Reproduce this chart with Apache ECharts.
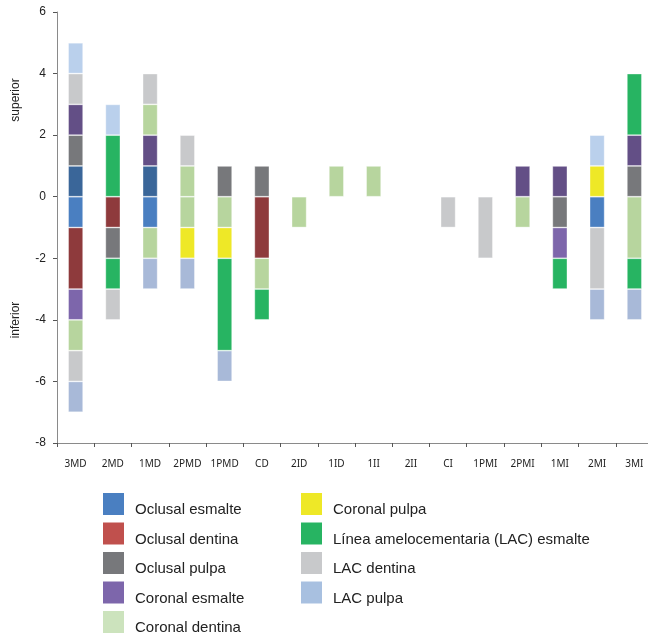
<!DOCTYPE html>
<html>
<head>
<meta charset="utf-8">
<script src="https://cdn.jsdelivr.net/npm/echarts@6/dist/echarts.min.js"></script>
<style>html,body{margin:0;padding:0;background:#fff}#c{width:648px;height:644px}</style>
</head>
<body>
<div id="c"></div>
<script>
var categories = ['3MD','2MD','1MD','2PMD','1PMD','CD','2ID','1ID','1II','2II','CI','1PMI','2PMI','1MI','2MI','3MI'];
var yTicks = {min: -8, max: 6, interval: 2};
var typeNames = ['Oclusal esmalte','Oclusal dentina','Oclusal pulpa','Coronal esmalte','Coronal dentina','Coronal pulpa','Línea amelocementaria (LAC) esmalte','LAC dentina','LAC pulpa'];
var N = null;
// superior (positive) values per type, order of categories
var ocEsmalteSup  = [1,N,1,N,N,N,N,N,N,N,N,N,N,N,N,N];
var ocDentinaSup  = [N,N,N,N,N,N,N,N,N,N,N,N,N,N,N,N];
var ocPulpaSup    = [1,N,N,N,1,1,N,N,N,N,N,N,N,N,N,1];
var corEsmalteSup = [1,N,1,N,N,N,N,N,N,N,N,N,1,1,N,1];
var corDentinaSup = [N,N,1,1,N,N,N,1,1,N,N,N,N,N,N,N];
var corPulpaSup   = [N,N,N,N,N,N,N,N,N,N,N,N,N,N,1,N];
var lacEsmalteSup = [N,2,N,N,N,N,N,N,N,N,N,N,N,N,N,2];
var lacDentinaSup = [1,N,1,1,N,N,N,N,N,N,N,N,N,N,N,N];
var lacPulpaSup   = [1,1,N,N,N,N,N,N,N,N,N,N,N,N,1,N];
// inferior (negative) values per type
var ocEsmalteInf  = [-1,N,-1,N,N,N,N,N,N,N,N,N,N,N,-1,N];
var ocDentinaInf  = [-2,-1,N,N,N,-2,N,N,N,N,N,N,N,N,N,N];
var ocPulpaInf    = [N,-1,N,N,N,N,N,N,N,N,N,N,N,-1,N,N];
var corEsmalteInf = [-1,N,N,N,N,N,N,N,N,N,N,N,N,-1,N,N];
var corDentinaInf = [-1,N,-1,-1,-1,-1,-1,N,N,N,N,N,-1,N,N,-2];
var corPulpaInf   = [N,N,N,-1,-1,N,N,N,N,N,N,N,N,N,N,N];
var lacEsmalteInf = [N,-1,N,N,-3,-1,N,N,N,N,N,N,N,-1,N,-1];
var lacDentinaInf = [-1,-1,N,N,N,N,N,N,N,N,-1,-2,N,N,-2,N];
var lacPulpaInf   = [-1,N,-1,-1,-1,N,N,N,N,N,N,N,N,N,-1,-1];

var supData = [ocEsmalteSup,ocDentinaSup,ocPulpaSup,corEsmalteSup,corDentinaSup,corPulpaSup,lacEsmalteSup,lacDentinaSup,lacPulpaSup];
var infData = [ocEsmalteInf,ocDentinaInf,ocPulpaInf,corEsmalteInf,corDentinaInf,corPulpaInf,lacEsmalteInf,lacDentinaInf,lacPulpaInf];
var supColors = ['#3a6699','#8e3a3c','#77787b','#634f86','#b7d59e','#eee827','#27b462','#c8c9cb','#bad0ec'];
var infColors = ['#4a7fc1','#8e3a3c','#77787b','#7d66ab','#b7d59e','#eee827','#27b462','#c8c9cb','#a8b9d8'];
var legendColors = ['#4a7fc1','#c0504d','#77787b','#7d66ab','#cce3bd','#eee827','#27b462','#c8c9cb','#a8c0e0'];

var series = [];
function mk(name, data, color) {
  return {
    name: name, type: 'bar', stack: 'all', data: data, barWidth: 15,
    itemStyle: {color: color, borderColor: 'rgba(255,255,255,0.45)', borderWidth: 0.8},
    emphasis: {disabled: true}
  };
}
for (var i = 0; i < typeNames.length; i++) series.push(mk(typeNames[i], supData[i], supColors[i]));
for (var j = 0; j < typeNames.length; j++) series.push(mk(typeNames[j], infData[j], infColors[j]));

function legendItems(from, to) {
  var out = [];
  for (var k = from; k < to; k++) out.push({name: typeNames[k], icon: 'rect', itemStyle: {color: legendColors[k], borderWidth: 0}});
  return out;
}
var legendText = {
  fontFamily: 'Liberation Sans', fontSize: 15, color: '#222',
  rich: {t: {fontFamily: 'Liberation Sans', fontSize: 15, color: '#222', padding: [12, 0, 0, 6]}}
};
function legendFmt(name) { return '{t|' + name + '}'; }

var chart = echarts.init(document.getElementById('c'));
chart.setOption({
  animation: false,
  backgroundColor: '#fff',
  grid: {left: 57, width: 596, top: 12, bottom: 201, outerBoundsMode: 'none', containLabel: false},
  xAxis: {
    type: 'category', data: categories,
    axisLine: {onZero: false, lineStyle: {color: '#8a8a8a', width: 1}},
    axisTick: {show: true, length: 4, lineStyle: {color: '#555'}},
    axisLabel: {fontFamily: 'Noto Sans', fontSize: 10, color: '#222', margin: 16, interval: 0}
  },
  yAxis: {
    type: 'value', min: yTicks.min, max: yTicks.max, interval: yTicks.interval,
    axisLine: {show: true, lineStyle: {color: '#8a8a8a', width: 1}},
    axisTick: {show: true, length: 4, lineStyle: {color: '#555'}},
    splitLine: {show: false},
    axisLabel: {fontFamily: 'Liberation Sans', fontSize: 12, color: '#222', margin: 11}
  },
  legend: [
    {orient: 'vertical', left: 103, top: 493, height: 160, padding: 0, itemWidth: 21, itemHeight: 22, itemGap: 5,
     data: legendItems(0, 5), textStyle: legendText, formatter: legendFmt, selectedMode: false},
    {orient: 'vertical', left: 301, top: 493, height: 160, padding: 0, itemWidth: 21, itemHeight: 22, itemGap: 5,
     data: legendItems(5, 9), textStyle: legendText, formatter: legendFmt, selectedMode: false}
  ],
  graphic: [
    {type: 'text', x: 16, y: 100, rotation: Math.PI / 2, style: {text: 'superior', fontFamily: 'Liberation Sans', fontSize: 12, fill: '#222', align: 'center', verticalAlign: 'middle'}},
    {type: 'text', x: 16, y: 320, rotation: Math.PI / 2, style: {text: 'inferior', fontFamily: 'Liberation Sans', fontSize: 12, fill: '#222', align: 'center', verticalAlign: 'middle'}}
  ],
  series: series
});
</script>
</body>
</html>
